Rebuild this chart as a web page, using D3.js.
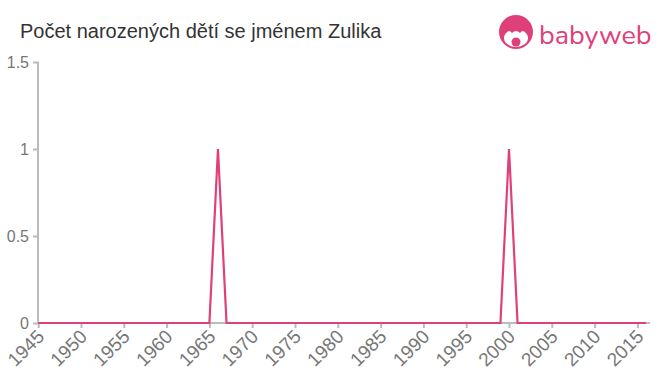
<!DOCTYPE html>
<html>
<head>
<meta charset="utf-8">
<script src="https://cdn.jsdelivr.net/npm/d3@7"></script>
<style>
  body { margin: 0; background: #fff; }
  svg { display: block; font-family: "Liberation Sans", Arial, sans-serif; }
</style>
</head>
<body>
<svg width="660" height="375"></svg>
<script>
var title = "Počet narozených dětí se jménem Zulika";
var years = d3.range(1945, 2017);
var births = years.map(function(y) { return (y === 1966 || y === 2000) ? 1 : 0; });
var xTicks = d3.range(1945, 2016, 5);
var yTicks = [0, 0.5, 1, 1.5];

var svg = d3.select("svg");

var x = d3.scaleLinear()
    .domain([1945, 2015])
    .range([38.2, 637.4]);
var y = d3.scaleLinear()
    .domain([0, 1.5])
    .range([323, 62]);

svg.append("text")
    .attr("x", 20).attr("y", 38)
    .attr("font-size", 20)
    .attr("fill", "#333")
    .text(title);

// y axis
var yAxis = svg.append("g")
    .attr("transform", "translate(38,0)")
    .call(d3.axisLeft(y).tickValues(yTicks).tickSize(5).tickPadding(4)
        .tickFormat(function(d) { return d; }));
yAxis.select(".domain").attr("stroke", "#bbb").attr("stroke-width", 2)
    .attr("d", "M0,62V323");
yAxis.selectAll(".tick line").attr("stroke", "#bbb").attr("stroke-width", 2);
yAxis.selectAll(".tick text").attr("fill", "#777").attr("font-size", 16)
    .attr("font-family", "Liberation Sans, Arial, sans-serif");

// x axis
var xAxis = svg.append("g")
    .attr("transform", "translate(0,323)")
    .call(d3.axisBottom(x).tickValues(xTicks).tickSize(5).tickFormat(d3.format("d")));
xAxis.select(".domain").attr("stroke", "#bbb").attr("stroke-width", 2)
    .attr("d", "M37,0H650");
xAxis.selectAll(".tick line").attr("stroke", "#bbb").attr("stroke-width", 2);
xAxis.selectAll(".tick text")
    .attr("fill", "#777").attr("font-size", 19)
    .attr("font-family", "Liberation Sans, Arial, sans-serif")
    .attr("text-anchor", "end")
    .attr("y", 0)
    .attr("dy", "0.35em")
    .attr("transform", "translate(2,10) rotate(-45)");

var line = d3.line()
    .x(function(d, i) { return x(years[i]); })
    .y(function(d) { return y(d); });

svg.append("path")
    .datum(births)
    .attr("fill", "none")
    .attr("stroke", "#e0407a")
    .attr("stroke-width", 2.2)
    .attr("d", line);

// logo
var pink = "#e0407a";
var logo = svg.append("g").attr("transform", "translate(516,32)");
logo.append("circle").attr("r", 17).attr("fill", pink);
logo.append("ellipse").attr("cx", 0).attr("cy", 6).attr("rx", 12).attr("ry", 9).attr("fill", "#fff");
logo.append("path")
    .attr("d", "M-13,2 Q-8,-4 -4,1 Q0,-3 4,1 Q8,-4 13,2 L13,-10 L-13,-10 Z")
    .attr("fill", pink);
logo.append("circle").attr("cx", 0).attr("cy", 10).attr("r", 4.5).attr("fill", pink);
svg.append("text")
    .attr("x", 539).attr("y", 44)
    .attr("font-size", 27)
    .attr("fill", pink)
    .attr("font-family", "Nunito, 'Open Sans', sans-serif")
    .text("babyweb");
</script>
</body>
</html>
